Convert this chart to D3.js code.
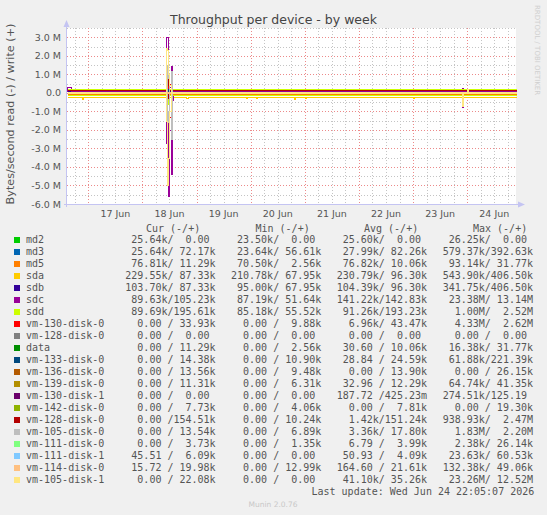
<!DOCTYPE html>
<html>
<head>
<meta charset="utf-8">
<script src="https://cdn.jsdelivr.net/npm/d3@7"></script>
<style>
  body { margin: 0; background: #f0f0f0; }
  svg { display: block; }
  text { font-family: "DejaVu Sans", sans-serif; fill: #555; }
  .mono { font-family: "DejaVu Sans Mono", monospace; font-size: 10px; white-space: pre; }
</style>
</head>
<body>
<svg id="chart" width="547" height="515"></svg>
<script>
// devices in legend order, munin palette
var devices = ["md2", "md3", "md5", "sda", "sdb", "sdc", "sdd", "vm-130-disk-0", "vm-128-disk-0",
  "data", "vm-133-disk-0", "vm-136-disk-0", "vm-139-disk-0", "vm-130-disk-1", "vm-142-disk-0",
  "vm-128-disk-0", "vm-105-disk-0", "vm-111-disk-0", "vm-111-disk-1", "vm-114-disk-0", "vm-105-disk-1"];
var colors = ["#00CC00", "#0066B3", "#FF8000", "#FFCC00", "#330099", "#990099", "#CCFF00", "#FF0000",
  "#808080", "#008F00", "#00487D", "#B35A00", "#B38F00", "#6B006B", "#8FB300", "#B30000",
  "#BEBEBE", "#80FF80", "#80C9FF", "#FFC080", "#FFE680"];

// legend values, bytes/second (read / write)
var curRead  = [25640, 25640, 76810, 229550, 103700, 89630, 89690, 0, 0, 0, 0, 0, 0, 0, 0, 0, 0, 0, 45.51, 15.72, 0];
var curWrite = [0, 72170, 11290, 87330, 87330, 105230, 195610, 33930, 0, 11290, 14380, 13560, 11310, 0, 7730, 154510, 13540, 3730, 6090, 19980, 22080];
var minRead  = [23500, 23640, 70500, 210780, 95000, 87190, 85180, 0, 0, 0, 0, 0, 0, 0, 0, 0, 0, 0, 0, 0, 0];
var minWrite = [0, 56610, 2560, 67950, 67950, 51640, 55520, 9880, 0, 2560, 10900, 9480, 6310, 0, 4060, 10240, 6890, 1350, 0, 12990, 0];
var avgRead  = [25600, 27990, 76820, 230790, 104390, 141220, 91260, 6960, 0, 30.60, 28.84, 0, 32.96, 187.72, 0, 1420, 3360, 6.79, 50.93, 164.60, 41100];
var avgWrite = [0, 82260, 10060, 96300, 96300, 142830, 193230, 43470, 0, 10060, 24590, 13900, 12290, 0.42523, 7810, 151240, 17800, 3990, 4090, 21610, 35260];
var maxRead  = [26250, 579370, 93140, 543900, 341750, 23380000, 1000000, 4330000, 0, 16380, 61880, 0, 64740, 274510, 0, 938930, 1830000, 2380, 23630, 132380, 23260000];
var maxWrite = [0, 392630, 31770, 406500, 406500, 13140000, 2520000, 2620000, 0, 31770, 221390, 26150, 41350, 125.19, 19300, 2470000, 2200000, 26140, 60530, 49060, 12520000];

// samples that leave the baseline (hours since 16 Jun 00:00, values in M, null = baseline)
var sampleDev   = [5, 5, 5, 5,
  5, 5, 5, 5, 5, 5,
  20, 20, 20, 20,
  6, 7, 7, 7, 7, 15, 15, 16, 16, 16, 3, 1, 10,
  5, 20, 20,
  3, 3, 3, 3, 3, 3, 3];
var sampleHour  = [14.5, 15, 15.5, 16,
  58.5, 59, 59.5, 60, 60.5, 61,
  58.5, 59, 59.5, 60,
  59, 58.5, 59, 60, 60.5, 59, 59.5, 59, 59.5, 60.5, 59, 59, 59,
  189.5, 189.5, 192,
  21, 67.5, 94, 98.5, 115, 120, 168];
var sampleRead  = [null, null, null, null,
  2.7, 1.0, 5.55, 2.0, 4.4, 0.4,
  1.5, 5.0, 3.5, 1.0,
  0.6, 0.5, null, 1.3, 0.6, 0.3, null, 1.6, 1.0, 2.5, 0.5, 0.5, null,
  0.78, 0.7, null,
  0.32, 0.3, 0.3, 0.3, 0.32, 0.3, 0.3];
var sampleWrite = [0.3, 0.3, 0.3, 0.3,
  3.0, 3.0, 0.5, 0.3, 1.46, 0.2,
  2.4, 2.3, 1.0, 0.4,
  1.0, 0.6, 0.5, 0.5, 0.3, 0.9, 0.4, 1.5, 0.8, 1.2, 0.4, 0.35, 0.2,
  0.25, null, 0.22,
  null, null, null, null, null, null, null];

var yTicks = [3, 2, 1, 0, -1, -2, -3, -4, -5, -6];
var dayTicks = [36, 60, 84, 108, 132, 156, 180, 204];
var dayLabels = ["17 Jun", "18 Jun", "19 Jun", "20 Jun", "21 Jun", "22 Jun", "23 Jun", "24 Jun"];

var svg = d3.select("#chart");
var plotL = 67, plotR = 516, plotT = 28, plotB = 204;
var x = d3.scaleLinear().domain([14.56, 213.62]).range([plotL, plotR]);
var y = d3.scaleLinear().domain([-6, 3.5]).range([plotB, plotT]);

svg.append("rect").attr("x", plotL).attr("y", plotT).attr("width", plotR - plotL).attr("height", plotB - plotT).attr("fill", "#fff");

// grid
var minorY = d3.range(-6, 3.51, 0.5).filter(function(v) { return v % 1 !== 0; });
var minorX = d3.range(18, 214, 6).filter(function(v) { return v % 24 !== 0; });
var majorX = d3.range(24, 214, 24);
var grid = svg.append("g").attr("shape-rendering", "crispEdges");
function hLines(data, color) {
  grid.selectAll(null).data(data).enter().append("line")
    .attr("x1", plotL).attr("x2", plotR)
    .attr("y1", function(d) { return Math.round(y(d)) + 0.5; }).attr("y2", function(d) { return Math.round(y(d)) + 0.5; })
    .attr("stroke", color).attr("stroke-dasharray", "1,2");
}
function vLines(data, color) {
  grid.selectAll(null).data(data).enter().append("line")
    .attr("y1", plotT).attr("y2", plotB)
    .attr("x1", function(d) { return Math.round(x(d)) + 0.5; }).attr("x2", function(d) { return Math.round(x(d)) + 0.5; })
    .attr("stroke", color).attr("stroke-dasharray", "1,2");
}
hLines(minorY, "#c4c4c4");
vLines(minorX, "#c4c4c4");
hLines(yTicks, "#ec8a8a");
vLines(majorX, "#ec8a8a");

// series
var line = d3.line()
  .x(function(d) { return Math.round(x(d[0])) + 0.5; })
  .y(function(d) { return Math.round(y(d[1])) + 0.5; })
  .curve(d3.curveStepAfter);

var plot = svg.append("g");
devices.forEach(function(name, i) {
  var baseR = curRead[i] / 1e6, baseW = curWrite[i] / 1e6;
  var idx = d3.range(sampleDev.length).filter(function(k) { return sampleDev[k] === i; })
    .sort(function(a, b) { return sampleHour[a] - sampleHour[b]; });
  var rPts = [[14.56, -baseR]], wPts = [[14.56, baseW]];
  idx.forEach(function(k, j) {
    var h = sampleHour[k];
    var r = sampleRead[k] === null ? baseR : sampleRead[k];
    var w = sampleWrite[k] === null ? baseW : sampleWrite[k];
    rPts.push([h, -r]); wPts.push([h, w]);
    var next = idx[j + 1];
    if (next === undefined || sampleHour[next] > h + 0.5) {
      rPts.push([h + 0.5, -baseR]); wPts.push([h + 0.5, baseW]);
    }
  });
  rPts.push([213.62, -baseR]); wPts.push([213.62, baseW]);
  [rPts, wPts].forEach(function(pts) {
    plot.append("path").attr("d", line(pts)).attr("fill", "none")
      .attr("stroke", colors[i]).attr("stroke-width", 1).attr("shape-rendering", "crispEdges");
  });
});

// axes
var axisColor = "#c4c4f2";
svg.append("line").attr("x1", plotL - 0.5).attr("x2", plotL - 0.5).attr("y1", plotB + 3).attr("y2", 22)
  .attr("stroke", axisColor);
svg.append("path").attr("d", "M63.5,27 L66.5,20 L69.5,27 Z").attr("fill", axisColor);
svg.append("line").attr("x1", plotL - 3).attr("x2", 520).attr("y1", plotB + 0.5).attr("y2", plotB + 0.5)
  .attr("stroke", axisColor);
svg.append("path").attr("d", "M518,201.5 L525,204.5 L518,207.5 Z").attr("fill", axisColor);

// tick labels
svg.selectAll(".yl").data(yTicks).enter().append("text")
  .attr("x", 61).attr("y", function(d) { return y(d) + 3.5; })
  .attr("text-anchor", "end").attr("font-size", "9.5px")
  .text(function(d) { return d === 0 ? "0.0" : d.toFixed(1) + " M"; });
svg.selectAll(".xl").data(dayTicks).enter().append("text")
  .attr("x", function(d) { return x(d); }).attr("y", 216.5)
  .attr("text-anchor", "middle").attr("font-size", "9.5px")
  .text(function(d, i) { return dayLabels[i]; });

// titles
svg.append("text").attr("x", 273.5).attr("y", 24).attr("text-anchor", "middle")
  .attr("font-size", "12.5px").style("fill", "#444").text("Throughput per device - by week");
svg.append("text").attr("transform", "translate(14,114) rotate(-90)").attr("text-anchor", "middle")
  .attr("font-size", "11.2px").text("Bytes/second read (-) / write (+)");
svg.append("text").attr("transform", "translate(535,5) rotate(90)").attr("text-anchor", "start")
  .attr("font-size", "7px").style("fill", "#cfcfcf").text("RRDTOOL / TOBI OETIKER");

// legend
function fmt(v) {
  var u = " ";
  if (v >= 1e6) { v = v / 1e6; u = "M"; }
  else if (v >= 1e3) { v = v / 1e3; u = "k"; }
  else if (v > 0 && v < 1) { v = v * 1e3; u = "m"; }
  var s = v.toFixed(2);
  while (s.length < 6) s = " " + s;
  return s + u;
}
var colX = [125.3, 231, 336.7, 442.7];
var headX = [146, 255.5, 364, 473];
var heads = ["Cur (-/+)", "Min (-/+)", "Avg (-/+)", "Max (-/+)"];
var leg = svg.append("g");
heads.forEach(function(h, j) {
  leg.append("text").attr("class", "mono").attr("x", headX[j]).attr("y", 232).text(h);
});
devices.forEach(function(name, i) {
  var by = 243 + 12 * i;
  leg.append("rect").attr("x", 14).attr("y", by - 6).attr("width", 6).attr("height", 6)
    .attr("fill", colors[i]);
  leg.append("text").attr("class", "mono").attr("x", 26).attr("y", by).text(name);
  var cols = [[curRead, curWrite], [minRead, minWrite], [avgRead, avgWrite], [maxRead, maxWrite]];
  cols.forEach(function(c, j) {
    leg.append("text").attr("class", "mono").attr("x", colX[j]).attr("y", by)
      .text(fmt(c[0][i]) + "/" + fmt(c[1][i]));
  });
});
leg.append("text").attr("class", "mono").attr("x", 311.5).attr("y", 243 + 12 * 21)
  .text("Last update: Wed Jun 24 22:05:07 2026");
svg.append("text").attr("x", 273).attr("y", 507).attr("text-anchor", "middle")
  .attr("font-size", "7.5px").style("fill", "#c8c8c8").text("Munin 2.0.76");
</script>
</body>
</html>
